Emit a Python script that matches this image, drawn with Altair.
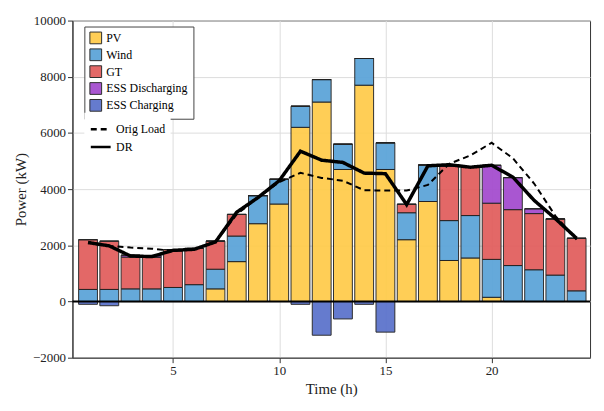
import altair as alt
import pandas as pd

hours = list(range(1, 25))
pv = [0, 0, 0, 0, 0, 0, 450, 1420, 2770, 3470, 6200, 7100, 4700, 7700, 4700, 2200, 3560, 1460, 1550, 150, 0, 0, 0, 0]
wind = [430, 430, 450, 450, 500, 600, 700, 910, 1000, 880, 750, 800, 900, 950, 950, 960, 1300, 1420, 1510, 1350, 1280, 1130, 940, 380]
gt = [1770, 1720, 1130, 1120, 1350, 1290, 1000, 770, 0, 0, 0, 0, 0, 0, 0, 300, 0, 1940, 1710, 2000, 1990, 2000, 2000, 1870]
dis = [0, 0, 70, 60, 0, 0, 0, 0, 0, 0, 0, 0, 0, 0, 0, 0, 0, 0, 0, 1350, 1140, 170, 0, 0]
chg = [-100, -150, 0, 0, 0, 0, 0, 0, 0, 0, -100, -1200, -620, -100, -1090, 0, 0, 0, 0, 0, 0, 0, 0, 0]
orig = [2100, 1980, 1920, 1880, 1800, 1860, 2120, 3100, 3700, 4250, 4580, 4400, 4300, 3960, 3950, 3950, 4150, 4900, 5200, 5650, 5100, 4200, 3050, 2200]
dr = [2100, 1980, 1620, 1600, 1820, 1860, 2120, 3180, 3700, 4300, 5350, 5030, 4950, 4570, 4550, 3450, 4830, 4870, 4780, 4850, 4430, 3600, 2950, 2250]

srcs = ["PV", "Wind", "GT", "ESS Discharging", "ESS Charging"]
cols = ["#FFCC4D", "#5DA5D9", "#E2605F", "#A54ECF", "#5D74CC"]
rows = []
for i, h in enumerate(hours):
    for k, (s, arr) in enumerate(zip(srcs, [pv, wind, gt, dis, chg])):
        rows.append({"h": h, "src": s, "v": arr[i], "o": k})
bars_df = pd.DataFrame(rows)
lines_df = pd.DataFrame(
    [{"h": h, "s": "Orig Load", "v": v} for h, v in zip(hours, orig)]
    + [{"h": h, "s": "DR", "v": v} for h, v in zip(hours, dr)]
)

font = "Liberation Serif"
xs = alt.Scale(domain=[0.5, 24.4], nice=False)
ys = alt.Scale(domain=[-2000, 10000], nice=False)

bars = alt.Chart(bars_df).mark_bar(size=19, stroke="#222", strokeWidth=1, opacity=0.95).encode(
    x=alt.X("h:Q", scale=xs, title="Time (h)",
            axis=alt.Axis(values=[5, 10, 15, 20], grid=True, format="d")),
    y=alt.Y("v:Q", stack="zero", scale=ys, title="Power (kW)",
            axis=alt.Axis(values=list(range(-2000, 10001, 2000)), grid=True, format="d")),
    color=alt.Color("src:N", scale=alt.Scale(domain=srcs, range=cols), sort=srcs,
                    legend=alt.Legend(title=None, orient="none", legendX=12, legendY=6,
                                      symbolType="square", symbolSize=140,
                                      symbolStrokeColor="#222", symbolStrokeWidth=1,
                                      labelFont=font, labelFontSize=12, rowPadding=0,
                                      padding=5, strokeColor="#444", fillColor="white")),
    order=alt.Order("o:Q"),
)
zero = alt.Chart(pd.DataFrame({"y": [0]})).mark_rule(color="black", strokeWidth=2).encode(y=alt.Y("y:Q", scale=ys))
lines = alt.Chart(lines_df).mark_line(color="black").encode(
    x=alt.X("h:Q", scale=xs),
    y=alt.Y("v:Q", scale=ys),
    strokeDash=alt.StrokeDash("s:N", scale=alt.Scale(domain=["Orig Load", "DR"], range=[[6, 4], [1, 0]]),
                              legend=alt.Legend(title=None, orient="none", legendX=12, legendY=93,
                                                symbolStrokeColor="black", symbolStrokeWidth=2.5,
                                                symbolSize=400, labelFont=font, labelFontSize=12,
                                                rowPadding=0, padding=5, fillColor="white")),
    strokeWidth=alt.StrokeWidth("s:N", scale=alt.Scale(domain=["Orig Load", "DR"], range=[2, 3.5]), legend=None),
)

chart = alt.layer(bars, zero, lines).resolve_legend(strokeDash="independent").properties(
    width=522, height=340
).configure_view(stroke="#333", strokeWidth=1).configure_axis(
    labelFont=font, titleFont=font, labelFontSize=13, titleFontSize=15, titleFontWeight="normal",
    gridColor="#ddd", domainColor="#333", tickColor="#333", labelColor="#222", titleColor="#222"
)
chart.save("out.html", embed_options={"renderer": "svg", "actions": False})
